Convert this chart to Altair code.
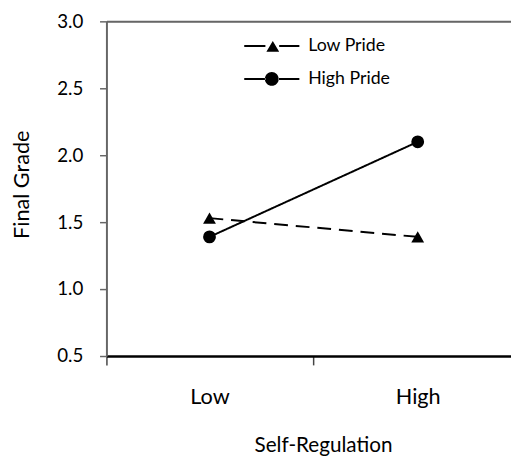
import altair as alt
import pandas as pd

categories = ["Low", "High"]
series = ["Low Pride", "High Pride"]
low_pride = [1.53, 1.39]
high_pride = [1.39, 2.10]
y_ticks = [0.5, 1.0, 1.5, 2.0, 2.5, 3.0]

rows = []
for s, vals in zip(series, [low_pride, high_pride]):
    for i, (c, v) in enumerate(zip(categories, vals)):
        rows.append({"Self-Regulation": c, "pos": i, "Pride": s, "Final Grade": v})
df = pd.DataFrame(rows)

FONT = "Lato"
x_dom = [-0.495, 1.448]
label_expr = " : ".join(
    [f"datum.value == {i} ? '{c}'" for i, c in enumerate(categories)]
) + " : ''"
cat_test = " || ".join([f"datum.value == {i}" for i in range(len(categories))])

x_axis = alt.Axis(
    values=[x_dom[0], 0, 0.5, 1],
    labelExpr=label_expr,
    labelFlush=False,
    labelOverlap=False,
    labelFontSize=22,
    labelColor="black",
    labelBaseline="middle",
    labelPadding=32,
    tickSize=9,
    tickWidth=1.5,
    tickColor={"condition": {"test": cat_test, "value": "transparent"}, "value": "#444"},
    domainColor="black",
    domainWidth=2.5,
    grid=False,
    title="Self-Regulation",
    titleFontSize=21,
    titleFontWeight="normal",
    titleColor="black",
    titleX=220,
    titleY=91,
    titleBaseline="middle",
)

y_axis = alt.Axis(
    values=y_ticks,
    format=".1f",
    labelFontSize=19,
    labelColor="black",
    labelPadding=17,
    tickSize=7,
    tickWidth=1.5,
    tickColor="#666",
    domainColor="#666",
    domainWidth=2,
    grid=False,
    title="Final Grade",
    titleFontSize=22,
    titleFontWeight="normal",
    titleColor="black",
    titleAngle=270,
    titleX=-86.5,
    titleY=165.5,
    titleAlign="center",
    titleBaseline="middle",
)

top_axis = alt.Axis(
    orient="top", labels=False, ticks=False, title=None,
    domainColor="#666", domainWidth=2, grid=False,
)

x_scale = alt.Scale(domain=x_dom, nice=False, zero=False)
y_scale = alt.Scale(domain=[0.5, 3.0], nice=False, zero=False)

# legend symbols: line segments drawn as thin filled bars + marker
legend_shapes = [
    "M-5.6,-0.2H-1.3V0.2H-5.6Z M1.5,-0.2H5.6V0.2H1.5Z M-1.1,1.2L0.2,-1L1.5,1.2Z",
    "M-5.6,-0.2H-1.3V0.2H-5.6Z M1.3,-0.2H5.6V0.2H1.3Z M-1.4,0A1.4,1.4,0,1,0,1.4,0A1.4,1.4,0,1,0,-1.4,0Z",
]

base = alt.Chart(df)
is_first = alt.datum.Pride == series[0]

lines = base.mark_line(color="black", strokeWidth=2).encode(
    x=alt.X("pos:Q", scale=x_scale, axis=x_axis),
    y=alt.Y("Final Grade:Q", scale=y_scale, axis=y_axis),
    detail="Pride:N",
    strokeDash=alt.condition(is_first, alt.value([14, 8]), alt.value([1, 0])),
)

points = base.mark_point(filled=True, color="black", size=170, opacity=1).encode(
    x=alt.X("pos:Q", scale=x_scale, axis=top_axis),
    y=alt.Y("Final Grade:Q", scale=y_scale),
    shape=alt.condition(is_first, alt.value("triangle-up"), alt.value("circle")),
)

legend = alt.Legend(
    title=None,
    orient="none",
    legendX=159,
    legendY=16,
    padding=0,
    symbolSize=100,
    labelOffset=28,
    labelFontSize=18,
    labelColor="black",
    labelBaseline="middle",
    rowPadding=14.5,
    symbolFillColor="black",
)

legend_layer = (
    base.transform_filter("false")
    .mark_point(filled=True, color="black", size=100, opacity=1)
    .encode(
        shape=alt.Shape(
            "Pride:N",
            scale=alt.Scale(domain=series, range=legend_shapes),
            legend=legend,
        ),
    )
)

chart = (
    alt.layer(lines, points, legend_layer)
    .resolve_axis(x="independent")
    .properties(
        width=411,
        height=340,
        padding={"left": 100, "top": 10, "right": 0, "bottom": 98},
        autosize="none",
        background="white",
    )
    .configure_view(stroke=None)
    .configure(font=FONT)
    .configure_axis(labelFont=FONT, titleFont=FONT)
    .configure_legend(labelFont=FONT)
)

chart.save("out.html", embed_options={"renderer": "svg", "actions": False})
